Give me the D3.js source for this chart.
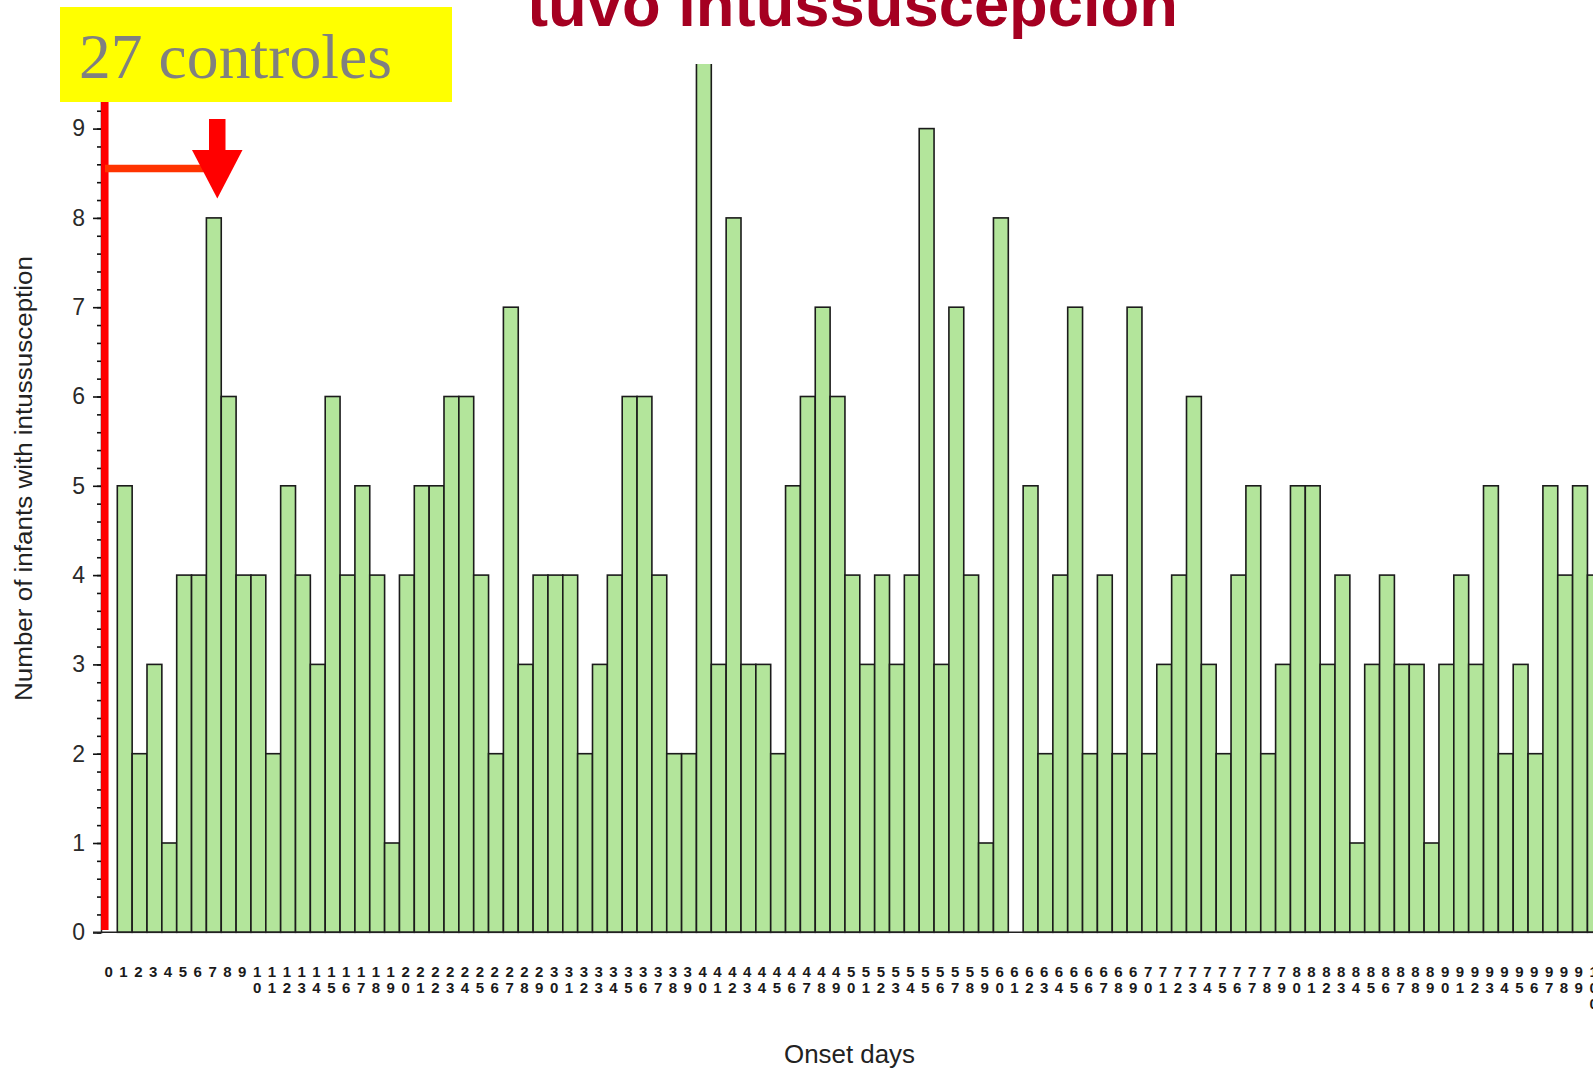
<!DOCTYPE html>
<html>
<head>
<meta charset="utf-8">
<script src="https://cdn.jsdelivr.net/npm/d3@7/dist/d3.min.js"></script>
<style>
  body { margin: 0; background: #fff; overflow: hidden; }
  svg { display: block; }
</style>
</head>
<body>
<script>
// onset day categories (0..100) and number of infants per day (bar for day 100 is off the picture)
const days = [0,1,2,3,4,5,6,7,8,9,10,11,12,13,14,15,16,17,18,19,20,21,22,23,24,25,26,27,28,29,
  30,31,32,33,34,35,36,37,38,39,40,41,42,43,44,45,46,47,48,49,50,51,52,53,54,55,56,57,58,59,
  60,61,62,63,64,65,66,67,68,69,70,71,72,73,74,75,76,77,78,79,80,81,82,83,84,85,86,87,88,89,
  90,91,92,93,94,95,96,97,98,99,100]
const cases = [5,2,3,1,4,4,8,6,4,4, 2,5,4,3,6,4,5,4,1,4, 5,5,6,6,4,2,7,3,4,4,
  4,2,3,4,6,6,4,2,2,10, 3,8,3,3,2,5,6,7,6,4, 3,4,3,4,9,3,7,4,1,8,
  0,5,2,4,7,2,4,2,7,2, 3,4,6,3,2,4,5,2,3,5, 5,3,4,1,3,4,3,3,1,3,
  4,3,5,2,3,2,5,4,5,4]
const yTicks = [0,1,2,3,4,5,6,7,8,9,10]

const titleText = "tuvo intussuscepción"
const boxText = "27 controles"
const yTitle = "Number of infants with intussusception"
const xTitle = "Onset days"

const W = 1593, H = 1069
const barFill = "#b3e59b"

const svg = d3.select("body").append("svg")
  .attr("width", W).attr("height", H)

const x = d3.scaleBand()
  .domain(days)
  .range([117.3, 117.3 + days.length * 14.85])
  .padding(0)

const y = d3.scaleLinear()
  .domain([0, 10])
  .range([932.3, 39.3])

svg.append("clipPath").attr("id", "plotclip")
  .append("rect").attr("x", 0).attr("y", 64).attr("width", W).attr("height", H)

/*********** bars ***********/
svg.append("g").attr("clip-path", "url(#plotclip)")
  .selectAll("rect")
  .data(cases)
  .join("rect")
    .attr("x", (d, i) => x(days[i]))
    .attr("width", x.bandwidth())
    .attr("y", d => y(d))
    .attr("height", d => y(0) - y(d))
    .attr("fill", barFill)
    .attr("stroke", "#1b1b1b")
    .attr("stroke-width", 1.6)

/*********** y axis ***********/
const minorTicks = d3.range(0, 50).map(i => i / 5)   // 0.2 steps for minor tick marks
const yMinor = svg.append("g")
  .attr("transform", "translate(101,0)")
  .call(d3.axisLeft(y).tickValues(minorTicks).tickSize(4).tickFormat(""))
yMinor.select(".domain").remove()
yMinor.selectAll("line").attr("stroke", "#111").attr("stroke-width", 1.6)

const yAxis = svg.append("g")
  .attr("transform", "translate(101,0)")
  .call(d3.axisLeft(y).tickValues(yTicks).tickSize(8).tickPadding(8).tickFormat(d3.format("d")))
yAxis.select(".domain").attr("stroke", "#222").attr("stroke-width", 1.5)
yAxis.selectAll("line").attr("stroke", "#111").attr("stroke-width", 1.6)
yAxis.selectAll("text")
  .attr("font-family", "Liberation Sans, Arial, sans-serif")
  .attr("font-size", 23)
  .attr("fill", "#2a2a2a")

// x axis baseline
svg.append("line")
  .attr("x1", 93).attr("x2", W)
  .attr("y1", y(0)).attr("y2", y(0))
  .attr("stroke", "#222").attr("stroke-width", 1.6)

/*********** x tick labels: digits stacked vertically ***********/
const rowY = [977, 993, 1009]
const xl = svg.append("g")
  .attr("font-family", "Liberation Sans, Arial, sans-serif")
  .attr("font-size", 15)
  .attr("font-weight", "bold")
  .attr("fill", "#1a1a1a")
  .attr("text-anchor", "middle")
days.forEach(d => {
  const digits = String(d).split("")
  digits.forEach((ch, k) => {
    xl.append("text")
      .attr("x", x(d) - 8.7)
      .attr("y", rowY[k])
      .text(ch)
  })
})

/*********** axis titles ***********/
svg.append("text")
  .attr("transform", "translate(32,478.5) rotate(-90)")
  .attr("text-anchor", "middle")
  .attr("font-family", "Liberation Sans, Arial, sans-serif")
  .attr("font-size", 23)
  .attr("fill", "#222")
  .attr("textLength", 445)
  .attr("lengthAdjust", "spacingAndGlyphs")
  .text(yTitle)

svg.append("text")
  .attr("x", 849.5).attr("y", 1063)
  .attr("text-anchor", "middle")
  .attr("font-family", "Liberation Sans, Arial, sans-serif")
  .attr("font-size", 26)
  .attr("fill", "#222")
  .attr("textLength", 131)
  .attr("lengthAdjust", "spacingAndGlyphs")
  .text(xTitle)

/*********** slide overlays ***********/
// red marker line over the y axis
svg.append("line")
  .attr("x1", 104.8).attr("x2", 104.8)
  .attr("y1", 100).attr("y2", 930)
  .attr("stroke", "#ff0000").attr("stroke-width", 7.5)

// horizontal connector
svg.append("line")
  .attr("x1", 105).attr("x2", 208)
  .attr("y1", 168.6).attr("y2", 168.6)
  .attr("stroke", "#ff3300").attr("stroke-width", 7.5)

// down arrow
svg.append("rect")
  .attr("x", 209).attr("y", 119)
  .attr("width", 16.5).attr("height", 31.5)
  .attr("fill", "#ff0000")
svg.append("path")
  .attr("d", "M192,150 L242.5,150 L217.3,198.5 Z")
  .attr("fill", "#ff0000")

// yellow label box
svg.append("rect")
  .attr("x", 60).attr("y", 7)
  .attr("width", 392).attr("height", 95)
  .attr("fill", "#ffff00")
svg.append("text")
  .attr("x", 79).attr("y", 78)
  .attr("font-family", "Liberation Serif, Times New Roman, serif")
  .attr("font-size", 63.5)
  .attr("fill", "#808080")
  .attr("textLength", 313)
  .attr("lengthAdjust", "spacing")
  .text(boxText)

// slide title (cut at top edge)
svg.append("text")
  .attr("x", 527).attr("y", 26)
  .attr("font-family", "Liberation Sans, Arial, sans-serif")
  .attr("font-weight", "bold")
  .attr("font-size", 63)
  .attr("fill", "#a50021")
  .attr("textLength", 651)
  .attr("lengthAdjust", "spacingAndGlyphs")
  .text(titleText)
</script>
</body>
</html>
